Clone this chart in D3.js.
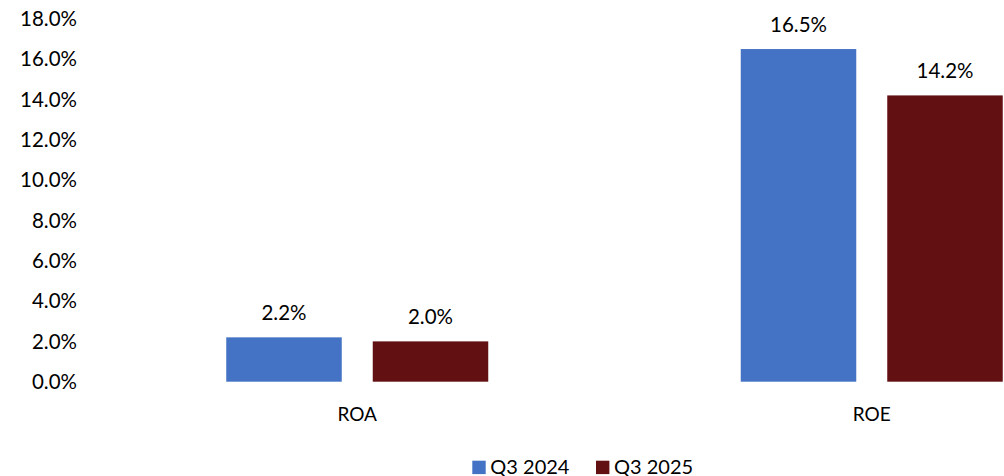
<!DOCTYPE html>
<html>
<head>
<meta charset="utf-8">
<script src="https://cdn.jsdelivr.net/npm/d3@7"></script>
<style>
  body { margin: 0; background: #fff; }
  text { font-family: Lato, "Open Sans", sans-serif; fill: #000; }
</style>
</head>
<body>
<script>
// data
var categories = ["ROA", "ROE"];
var seriesNames = ["Q3 2024", "Q3 2025"];
var q3_2024 = [2.2, 16.5];
var q3_2025 = [2.0, 14.2];
var yTicks = [0, 2, 4, 6, 8, 10, 12, 14, 16, 18];

var colors = ["#4472c4", "#631013"];
var width = 1004, height = 476;

var svg = d3.select("body").append("svg")
  .attr("width", width)
  .attr("height", height);

// plot area runs past the right edge, as in the original crop
var x = d3.scaleBand().domain(categories).range([100, 1129]).paddingInner(0).paddingOuter(0);
var y = d3.scaleLinear().domain([0, 18]).range([381.7, 18.8]);

var barW = 115.5, gap = 31;
var groupW = barW * 2 + gap;

// y tick labels (no axis line, no gridlines)
svg.append("g").selectAll("text")
  .data(yTicks)
  .enter().append("text")
  .attr("x", 77)
  .attr("y", function(d) { return y(d); })
  .attr("dy", "0.35em")
  .attr("text-anchor", "end")
  .style("font-size", "20.5px")
  .text(function(d) { return d.toFixed(1) + "%"; });

var series = [q3_2024, q3_2025];

series.forEach(function(vals, s) {
  var g = svg.append("g");
  var bx = function(d, i) {
    return x(categories[i]) + x.bandwidth() / 2 - groupW / 2 + s * (barW + gap);
  };
  g.selectAll("rect")
    .data(vals)
    .enter().append("rect")
    .attr("x", bx)
    .attr("y", function(d) { return y(d); })
    .attr("width", barW)
    .attr("height", function(d) { return y(0) - y(d); })
    .attr("fill", colors[s]);

  g.selectAll("text")
    .data(vals)
    .enter().append("text")
    .attr("x", function(d, i) { return bx(d, i) + barW / 2; })
    .attr("y", function(d) { return y(d) - 17; })
    .attr("text-anchor", "middle")
    .style("font-size", "20.5px")
    .text(function(d) { return d.toFixed(1) + "%"; });
});

// category labels
svg.append("g").selectAll("text")
  .data(categories)
  .enter().append("text")
  .attr("x", function(d) { return x(d) + x.bandwidth() / 2; })
  .attr("y", 421)
  .attr("text-anchor", "middle")
  .style("font-size", "19px")
  .text(function(d) { return d; });

// legend
var legend = svg.append("g");
var legX = [472.3, 596];
seriesNames.forEach(function(name, i) {
  legend.append("rect")
    .attr("x", legX[i])
    .attr("y", 460.7)
    .attr("width", 13.4)
    .attr("height", 13.4)
    .attr("fill", colors[i]);
  legend.append("text")
    .attr("x", legX[i] + 18)
    .attr("y", 473.5)
    .style("font-size", "20px")
    .text(name);
});
</script>
</body>
</html>
